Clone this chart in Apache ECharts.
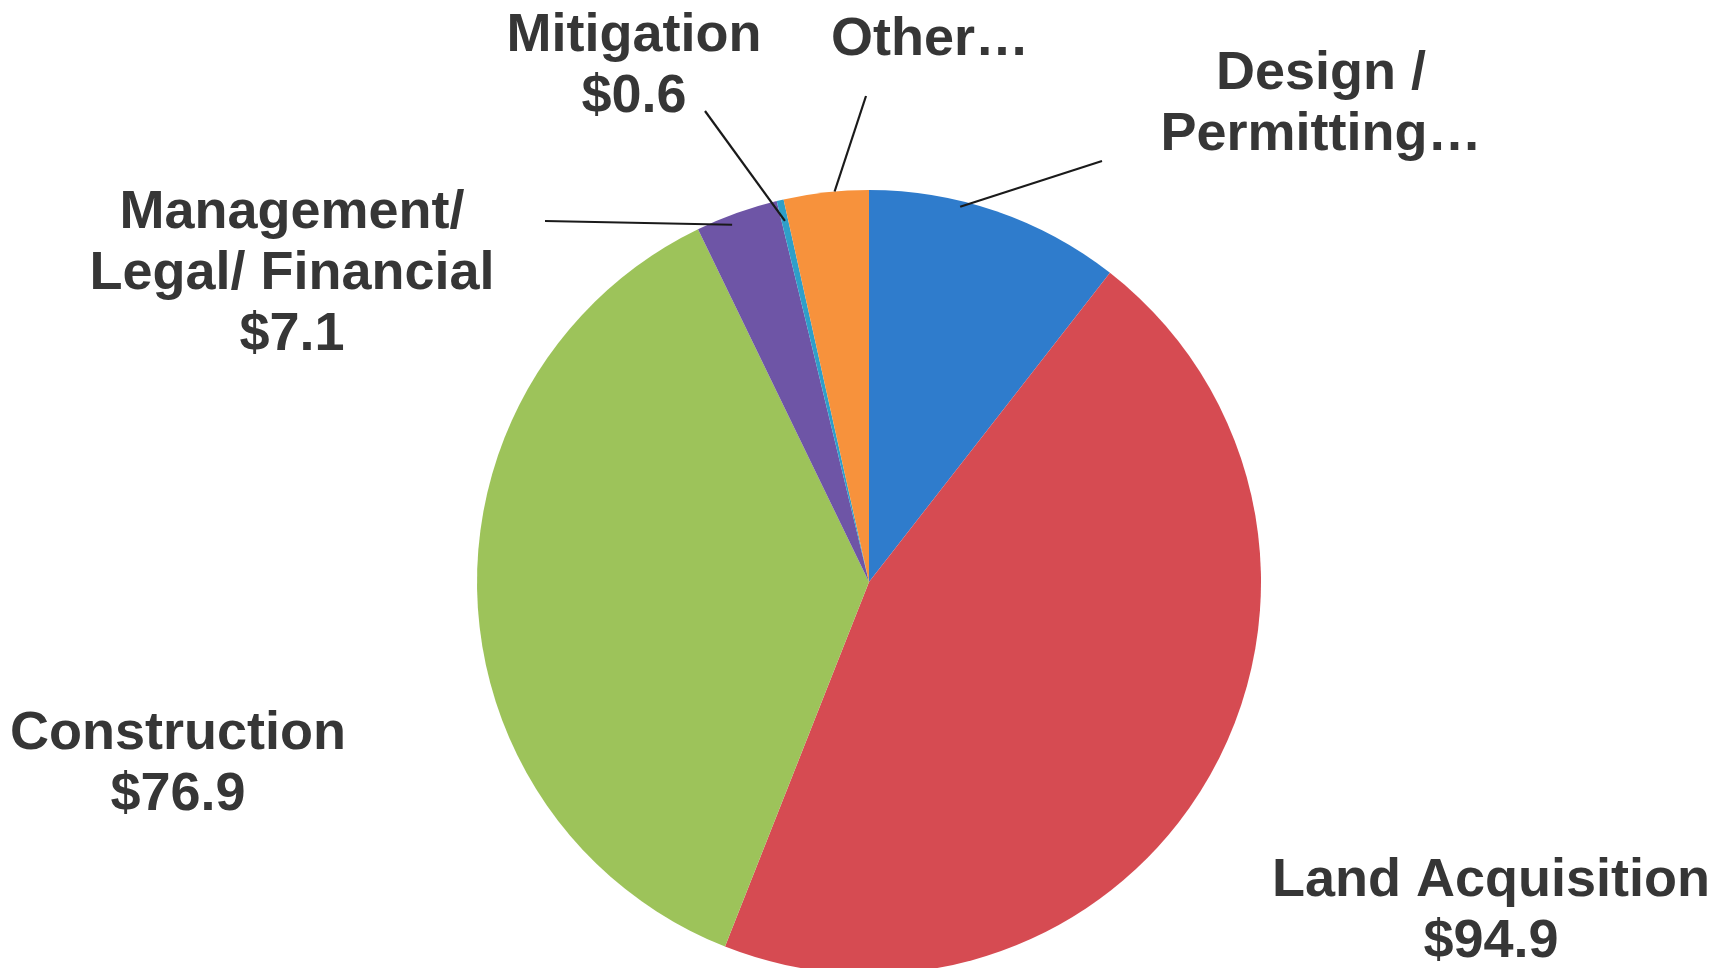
<!DOCTYPE html>
<html><head><meta charset="utf-8">
<script src="https://cdn.jsdelivr.net/npm/echarts@6/dist/echarts.min.js"></script>
<style>html,body{margin:0;padding:0;background:#fff}#chart{width:1719px;height:968px}</style>
</head><body><div id="chart"></div>
<script>
// ---- data ----
const categories = ['Design / Permitting', 'Land Acquisition', 'Construction', 'Management/ Legal/ Financial', 'Mitigation', 'Other'];
const values = [22.0, 94.9, 76.9, 7.1, 0.6, 7.3];
const labelTexts = ['Design /\nPermitting…', 'Land Acquisition\n$94.9', 'Construction\n$76.9', 'Management/\nLegal/ Financial\n$7.1', 'Mitigation\n$0.6', 'Other…'];
const colors = ['#2f7ccc', '#d64b52', '#9dc35a', '#6e55a6', '#2f9fc9', '#f7923c'];

// ---- label layout (annotation placement) ----
const labelPos = [[1321, 105], [1491, 912], [178, 765], [292, 274], [634, 67], [930, 40]];
const leaderEnds = [[1102, 161], null, null, [545, 221], [705, 111], [866, 96]];
const leaderFrac = [0.36, 0.5, 0.5, 0.4, 0.5, 0.6];
const leaderRad = [0.985, 1, 1, 0.976, 0.946, 1.0];

const chart = echarts.init(document.getElementById('chart'), null, {renderer: 'canvas'});
const data = categories.map((c, i) => ({
  name: c,
  value: values[i],
  itemStyle: {color: colors[i]},
  label: {formatter: labelTexts[i]}
}));

chart.setOption({
  backgroundColor: '#ffffff',
  animation: false,
  series: [{
    type: 'pie',
    center: [869, 582],
    radius: 392,
    startAngle: 90,
    clockwise: true,
    avoidLabelOverlap: false,
    itemStyle: {borderWidth: 0},
    label: {
      show: true,
      position: 'outside',
      fontFamily: '"Liberation Sans", Arial, sans-serif',
      fontWeight: 'bold',
      fontSize: 54,
      lineHeight: 61,
      color: '#363636',
      align: 'center'
    },
    labelLine: {show: false},
    labelLayout: function (params) {
      const i = params.dataIndex;
      return {x: labelPos[i][0], y: labelPos[i][1], align: 'center', verticalAlign: 'middle'};
    },
    data: data
  }]
});

// leader lines drawn on top of the slices, anchored to the library's pie layout
const pieData = chart.getModel().getSeriesByIndex(0).getData();
const lines = [];
categories.forEach((c, i) => {
  if (!leaderEnds[i]) return;
  const lay = pieData.getItemLayout(i);
  const a = lay.startAngle + (lay.endAngle - lay.startAngle) * leaderFrac[i];
  const r = lay.r * leaderRad[i];
  const sx = lay.cx + r * Math.cos(a), sy = lay.cy + r * Math.sin(a);
  lines.push({
    type: 'line', z: 100, silent: true,
    shape: {x1: sx, y1: sy, x2: leaderEnds[i][0], y2: leaderEnds[i][1]},
    style: {stroke: '#1a1a1a', lineWidth: 2.2}
  });
});
chart.setOption({graphic: lines});
</script>
</body></html>
